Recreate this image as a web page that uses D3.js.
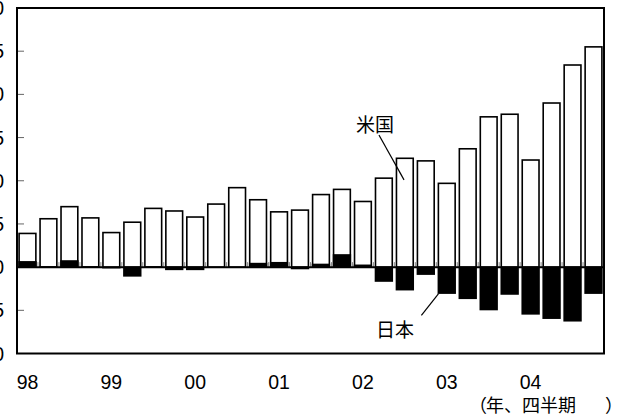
<!DOCTYPE html>
<html>
<head>
<meta charset="utf-8">
<script src="https://cdn.jsdelivr.net/npm/d3@7"></script>
<style>
  html, body { margin: 0; padding: 0; background: #fff; }
  svg { display: block; }
</style>
</head>
<body>
<div id="chart"></div>
<script>
// quarters 1998Q1 .. 2004Q4
var quarters = [];
for (var yr = 1998; yr <= 2004; yr++) {
    for (var q = 1; q <= 4; q++) quarters.push(yr + 'Q' + q);
}

// values
var usValues = [3.9, 5.6, 7.0, 5.7, 4.0, 5.2, 6.8, 6.5,
                5.8, 7.3, 9.2, 7.8, 6.4, 6.6, 8.4, 9.0,
                7.6, 10.3, 12.6, 12.3, 9.7, 13.7, 17.4, 17.7,
                12.4, 19.0, 23.4, 25.5];
var japanValues = [0.7, 0.1, 0.8, 0.1, -0.15, -1.1, 0.1, -0.35,
                   -0.35, -0.1, -0.1, 0.5, 0.6, -0.25, 0.4, 1.5,
                   0.3, -1.7, -2.7, -0.9, -3.1, -3.7, -5.0, -3.2,
                   -5.5, -6.0, -6.3, -3.1];
var yTicks = [-10, -5, 0, 5, 10, 15, 20, 25, 30];
var yearLabels = ['98', '99', '00', '01', '02', '03', '04'];

const width = 629, height = 416;
const plot = { left: 17, right: 604, top: 8, bottom: 353.5 };
const latin = 'Liberation Sans, Arial, sans-serif';
const cjk = 'Noto Sans CJK JP, sans-serif';

const svg = d3.select('#chart')
    .append('svg')
    .attr('width', width)
    .attr('height', height);

const xScale = d3.scaleBand()
    .domain(quarters)
    .range([plot.left, plot.right])
    .paddingInner(0.2)
    .paddingOuter(0.1);

const yScale = d3.scaleLinear()
    .domain([-10, 30])
    .range([plot.bottom, plot.top]);

// y ticks pointing inward
svg.append('g')
    .selectAll('line')
    .data(yTicks.filter(d => d > -10 && d < 30 && d !== 0))
    .join('line')
    .attr('x1', plot.left)
    .attr('x2', plot.left + 7)
    .attr('y1', d => yScale(d))
    .attr('y2', d => yScale(d))
    .attr('stroke', '#666')
    .attr('stroke-width', 1);

// y tick labels (mostly cut off by the left edge)
svg.append('g')
    .selectAll('text')
    .data(yTicks)
    .join('text')
    .attr('x', 4)
    .attr('y', d => yScale(d))
    .attr('text-anchor', 'end')
    .attr('dominant-baseline', 'central')
    .style('font-family', latin)
    .style('font-size', '19.5px')
    .text(d => d);

// US bars (white, outlined)
svg.append('g')
    .selectAll('rect')
    .data(quarters)
    .join('rect')
    .attr('x', d => xScale(d))
    .attr('y', (d, i) => yScale(usValues[i]))
    .attr('width', xScale.bandwidth())
    .attr('height', (d, i) => yScale(0) - yScale(usValues[i]))
    .attr('fill', '#fff')
    .attr('stroke', '#000')
    .attr('stroke-width', 1.6);

// Japan bars (black)
svg.append('g')
    .selectAll('rect')
    .data(quarters)
    .join('rect')
    .attr('x', d => xScale(d) - 0.8)
    .attr('y', (d, i) => yScale(Math.max(0, japanValues[i])))
    .attr('width', xScale.bandwidth() + 1.6)
    .attr('height', (d, i) => Math.abs(yScale(0) - yScale(japanValues[i])))
    .attr('fill', '#000');

// small x ticks on the zero line, between bars
const gap = xScale.step() * xScale.paddingInner() / 2;
svg.append('g')
    .selectAll('line')
    .data(quarters.slice(1))
    .join('line')
    .attr('x1', d => xScale(d) - gap)
    .attr('x2', d => xScale(d) - gap)
    .attr('y1', yScale(0))
    .attr('y2', yScale(0) - 5)
    .attr('stroke', '#888')
    .attr('stroke-width', 1);

// zero line
svg.append('line')
    .attr('x1', plot.left)
    .attr('x2', plot.right)
    .attr('y1', yScale(0))
    .attr('y2', yScale(0))
    .attr('stroke', '#000')
    .attr('stroke-width', 2);

// frame
svg.append('rect')
    .attr('x', plot.left)
    .attr('y', plot.top)
    .attr('width', plot.right - plot.left)
    .attr('height', plot.bottom - plot.top)
    .attr('fill', 'none')
    .attr('stroke', '#000')
    .attr('stroke-width', 2);

// year labels under each Q1 bar
svg.append('g')
    .selectAll('text')
    .data(yearLabels)
    .join('text')
    .attr('x', (d, i) => xScale(quarters[i * 4]) + xScale.bandwidth() / 2)
    .attr('y', 389)
    .attr('text-anchor', 'middle')
    .style('font-family', latin)
    .style('font-size', '19.5px')
    .text(d => d);

// unit note
const unit = svg.append('text')
    .attr('y', 404)
    .attr('dominant-baseline', 'central')
    .style('font-family', cjk)
    .style('font-size', '18px');
unit.append('tspan').attr('x', 487).attr('text-anchor', 'end').text('（');
unit.append('tspan').attr('x', 486).text('年、四半期');
unit.append('tspan').attr('x', 605).text('）');

// annotations
svg.append('text')
    .attr('x', 375)
    .attr('y', 123)
    .attr('text-anchor', 'middle')
    .attr('dominant-baseline', 'central')
    .style('font-family', cjk)
    .style('font-size', '19px')
    .text('米国');

svg.append('line')
    .attr('x1', xScale(quarters[18]) - 17.5)
    .attr('y1', yScale(15.3))
    .attr('x2', xScale(quarters[18]) + xScale.bandwidth() / 2 - 0.8)
    .attr('y2', yScale(10.1))
    .attr('stroke', '#000')
    .attr('stroke-width', 1.2);

svg.append('text')
    .attr('x', 395)
    .attr('y', 328)
    .attr('text-anchor', 'middle')
    .attr('dominant-baseline', 'central')
    .style('font-family', cjk)
    .style('font-size', '19px')
    .text('日本');

svg.append('line')
    .attr('x1', xScale(quarters[20]))
    .attr('y1', yScale(japanValues[20]))
    .attr('x2', xScale(quarters[20]) - 17)
    .attr('y2', yScale(-5.6))
    .attr('stroke', '#000')
    .attr('stroke-width', 1.2);
</script>
</body>
</html>
